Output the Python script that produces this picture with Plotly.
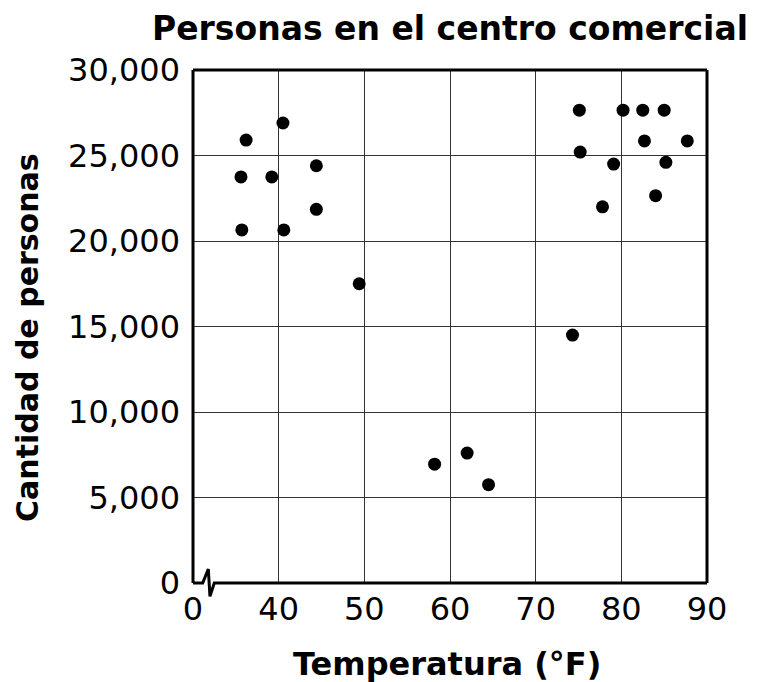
import plotly.graph_objects as go

# Data
temperatura = [40.5, 36.2, 44.4, 35.6, 39.2, 44.4, 35.7, 40.6, 49.4,
               58.2, 62.0, 64.5, 74.3,
               75.1, 80.2, 82.5, 85.0, 82.7, 87.7, 75.2, 79.1, 85.2, 84.0, 77.8]
personas = [26900, 25900, 24400, 23750, 23750, 21850, 20650, 20650, 17500,
            6950, 7600, 5750, 14500,
            27650, 27650, 27650, 27650, 25850, 25850, 25200, 24500, 24600, 22650, 22000]

x_tickvals = [30, 40, 50, 60, 70, 80, 90]
x_ticktext = ["0", "40", "50", "60", "70", "80", "90"]
y_tickvals = [0, 5000, 10000, 15000, 20000, 25000, 30000]
y_ticktext = ["0", "5,000", "10,000", "15,000", "20,000", "25,000", "30,000"]

FONT = "DejaVu Sans"
GRID = "#333333"

fig = go.Figure()
fig.add_trace(go.Scatter(
    x=temperatura, y=personas, mode="markers",
    marker=dict(size=13, color="black", line=dict(width=0)),
    showlegend=False, hoverinfo="skip"))

# page body has an 8px margin, so the figure is placed at (8, 8)
fig.update_layout(
    width=761, height=682,
    margin=dict(l=185, r=62, t=62, b=107),
    paper_bgcolor="white", plot_bgcolor="white",
    font=dict(family=FONT, color="black"),
    title=dict(text="<b>Personas en el centro comercial</b>",
               x=0.5, xref="paper", xanchor="center",
               y=1 - 20 / 682, yref="container", yanchor="middle",
               font=dict(family=FONT, size=33, color="black")),
)

fig.update_xaxes(
    range=[30, 90], tickvals=x_tickvals, ticktext=x_ticktext,
    showgrid=True, gridcolor=GRID, gridwidth=1.2,
    zeroline=False, showline=False, ticks="",
    tickfont=dict(family=FONT, size=32, color="black"),
    ticklabelstandoff=4,
)
fig.update_yaxes(
    range=[0, 30000], tickvals=y_tickvals, ticktext=y_ticktext,
    showgrid=True, gridcolor=GRID, gridwidth=1.2,
    zeroline=False, showline=False, ticks="",
    tickfont=dict(family=FONT, size=32, color="black"),
    ticklabelstandoff=12,
)

# Frame with axis-break zigzag on the bottom edge
LW = 3
fig.add_shape(type="line", xref="paper", yref="paper", x0=0, y0=0, x1=0, y1=1,
              line=dict(color="black", width=LW))
fig.add_shape(type="line", xref="paper", yref="paper", x0=0, y0=1, x1=1, y1=1,
              line=dict(color="black", width=LW))
fig.add_shape(type="line", xref="paper", yref="paper", x0=1, y0=0, x1=1, y1=1,
              line=dict(color="black", width=LW))
fig.add_shape(type="path", xref="paper", yref="paper",
              path="M 0,0 L 0.0189,0 L 0.0298,0.0273 L 0.033,-0.026 L 0.0414,0 L 1,0",
              line=dict(color="black", width=LW))

# Axis titles
fig.add_annotation(text="<b>Temperatura (°F)</b>", xref="paper", yref="paper",
                   x=0.494, y=-0.158, xanchor="center", yanchor="middle",
                   showarrow=False, font=dict(family=FONT, size=32, color="black"))
fig.add_annotation(text="<b>Cantidad de personas</b>", xref="paper", yref="paper",
                   x=-0.323, y=0.4795, xanchor="center", yanchor="middle",
                   textangle=-90, showarrow=False,
                   font=dict(family=FONT, size=30, color="black"))

fig.write_html("out.html")
